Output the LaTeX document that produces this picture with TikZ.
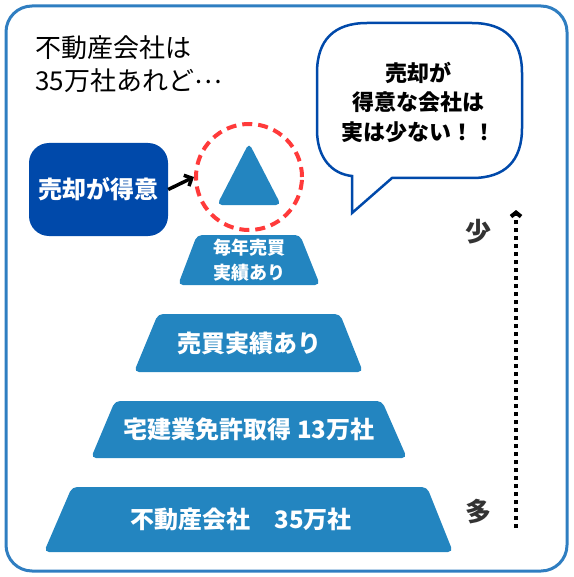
\documentclass[tikz,border=0pt]{standalone}
\usepackage{fontspec}
\setmainfont{Noto Sans CJK JP}
\usetikzlibrary{arrows.meta,positioning,shapes.geometric}
\definecolor{framec}{HTML}{2F7EC1}
\definecolor{navy}{HTML}{0049AA}
\definecolor{tierc}{HTML}{2385C0}
\definecolor{alert}{HTML}{FF3A3A}
\definecolor{ink}{HTML}{333333}
\newcommand{\fs}[2]{\fontsize{#1}{#2}\selectfont}
\tikzset{
  tier/.style={fill=tierc,rounded corners=5pt},
  tiertext/.style={text=white,font=\bfseries\fs{24}{30},inner sep=0pt,align=center},
  skillbox/.style={fill=navy,rounded corners=20pt,text=white,font=\bfseries\fs{24}{30},minimum width=139pt,minimum height=93pt,inner sep=0pt},
  ring/.style={circle,draw=alert,line width=4pt,dash pattern=on 10pt off 6pt,minimum size=106pt,inner sep=0pt},
  pointer/.style={-{Straight Barb[length=6pt,width=12pt]},line width=3.5pt},
  trend/.style={-{Straight Barb[length=4pt,width=10pt]},line width=4pt,dash pattern=on 4pt off 4pt},
  bubble/.style={draw=navy,line width=2.5pt,fill=white},
  side/.style={font=\bfseries\fs{26}{30},text=ink},
}
\begin{document}
\begin{tikzpicture}[x=1pt,y=-1pt]
\useasboundingbox (0,0) rectangle (573,577);
\draw[framec,line width=3pt,rounded corners=26pt] (6,6) rectangle (567,571);
% intro text
\node[anchor=base west,align=left,font=\fs{26}{33},inner sep=0pt] (intro) at (35,91) {不動産会社は\\35万社あれど\raisebox{0.3em}{…}};
% speech bubble
\draw[bubble] (352,213) -- (392,178) -- (472,178) .. controls (505,178) and (522,161) .. (522,128) -- (522,73) .. controls (522,40) and (505,23) .. (472,23) -- (367,23) .. controls (334,23) and (317,40) .. (317,73) -- (317,130) .. controls (317,158) and (332,174) .. (352,176) -- cycle;
\node[align=center,font=\bfseries\fs{22}{29.5}] (note) at (418,102) {売却が\\得意な会社は\\実は少ない！！};
% pyramid
\node[ring] (ring) at (249,177) {};
\fill[tierc,rounded corners=5pt] (217,205) -- (249,143) -- (281,205) -- cycle;
\fill[tier] (178,285) -- (197,235) -- (300,235) -- (320,285) -- cycle;
\fill[tier] (134,372) -- (158,314) -- (340,314) -- (363,372) -- cycle;
\fill[tier] (91,458) -- (115,401) -- (382,401) -- (407,458) -- cycle;
\fill[tier] (44,552) -- (72,487) -- (427,487) -- (453,552) -- cycle;
\node[tiertext,font=\bfseries\fs{18}{25}] (top) at (249,260) {毎年売買\\実績あり};
\node[tiertext] (deals) at (249,343) {売買実績あり};
\node[tiertext] (license) at (249,429.5) {宅建業免許取得 13万社};
\node[tiertext] (all) at (241,519.5) {不動産会社　35万社};
\node[skillbox] (skill) at (98.5,189.5) {売却が得意};
\draw[pointer] (skill.east) -- (ring.west);
% scale arrow
\coordinate (many) at (516,528);
\coordinate (few) at (516,210);
\draw[trend] (many) -- (few);
\node[side] (fewlbl) at (478,232) {少};
\node[side] (manylbl) at (478,512) {多};
\end{tikzpicture}
\end{document}
